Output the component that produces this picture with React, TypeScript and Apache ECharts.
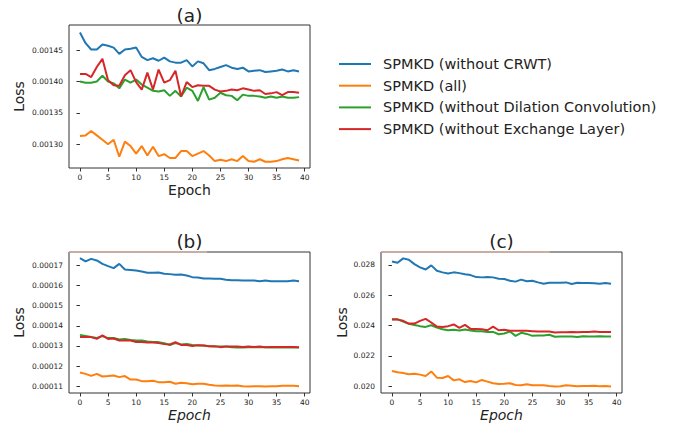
import React, { useEffect, useRef } from "react";
import * as echarts from "echarts";

const epochs: number[] = Array.from({ length: 40 }, (_, i) => i);
const seriesNames = [
  "SPMKD (without CRWT)",
  "SPMKD (all)",
  "SPMKD (without Dilation Convolution)",
  "SPMKD (without Exchange Layer)",
];
const colors = ["#1f77b4", "#ff7f0e", "#2ca02c", "#d62728"];
const panelTitles = ["(a)", "(b)", "(c)"];

// (a)
const aCrwt = [0.001478, 0.001461, 0.001451, 0.001451, 0.001459, 0.001457, 0.001454, 0.001444, 0.001451, 0.001452,
  0.001454, 0.001439, 0.001434, 0.001437, 0.001433, 0.001438, 0.001432, 0.00143, 0.00143, 0.001434,
  0.001424, 0.001432, 0.001429, 0.001418, 0.00142, 0.001423, 0.001426, 0.001422, 0.00142, 0.001422,
  0.001416, 0.001417, 0.001418, 0.001415, 0.001416, 0.001417, 0.001419, 0.001416, 0.001418, 0.001416];
const aAll = [0.001313, 0.001314, 0.001321, 0.001314, 0.001307, 0.0013, 0.001307, 0.00128, 0.001304, 0.001297,
  0.001285, 0.001297, 0.001282, 0.001296, 0.001281, 0.001284, 0.001278, 0.001278, 0.001289, 0.001289,
  0.001281, 0.001285, 0.001289, 0.001282, 0.001273, 0.001275, 0.001273, 0.001276, 0.001273, 0.001281,
  0.001273, 0.001272, 0.001276, 0.001272, 0.001272, 0.001273, 0.001276, 0.001278, 0.001276, 0.001274];
const aDil = [0.0014, 0.001398, 0.001398, 0.0014, 0.001409, 0.0014, 0.001397, 0.001389, 0.001403, 0.001398,
  0.001403, 0.001395, 0.00139, 0.001385, 0.001384, 0.001386, 0.001377, 0.001385, 0.001376, 0.00139,
  0.001385, 0.001369, 0.001391, 0.001371, 0.001374, 0.001382, 0.001378, 0.001377, 0.00137, 0.001379,
  0.001377, 0.001377, 0.001376, 0.001374, 0.001376, 0.001374, 0.001376, 0.001374, 0.001374, 0.001375];
const aExc = [0.001412, 0.001412, 0.001407, 0.001423, 0.001436, 0.001402, 0.001394, 0.001393, 0.00141, 0.001418,
  0.001399, 0.001387, 0.001414, 0.001387, 0.001419, 0.001398, 0.001402, 0.001417, 0.001376, 0.001399,
  0.001391, 0.001394, 0.001393, 0.001393, 0.001387, 0.001384, 0.001385, 0.001387, 0.001386, 0.001389,
  0.001387, 0.001385, 0.001386, 0.00138, 0.001381, 0.001383, 0.001378, 0.001383, 0.001383, 0.001382];

// (b)
const bCrwt = [0.0001736, 0.000172, 0.0001733, 0.0001725, 0.0001708, 0.0001697, 0.0001687, 0.0001708, 0.000168, 0.0001678,
  0.0001675, 0.000167, 0.0001664, 0.0001664, 0.0001665, 0.0001659, 0.0001657, 0.0001654, 0.0001655, 0.000165,
  0.0001642, 0.000164, 0.0001635, 0.0001635, 0.0001634, 0.0001634, 0.0001629, 0.0001627, 0.0001627, 0.0001625,
  0.0001625, 0.0001625, 0.0001622, 0.0001625, 0.0001622, 0.0001622, 0.0001622, 0.0001622, 0.0001625, 0.0001622];
const bAll = [0.0001168, 0.0001161, 0.0001151, 0.0001161, 0.0001148, 0.000115, 0.0001153, 0.0001145, 0.000115, 0.0001133,
  0.0001133, 0.0001125, 0.0001125, 0.0001127, 0.000112, 0.000112, 0.0001122, 0.0001112, 0.0001117, 0.0001115,
  0.000111, 0.0001112, 0.0001112, 0.0001107, 0.0001103, 0.0001102, 0.0001103, 0.0001102, 0.0001103, 0.00011,
  0.0001098, 0.00011, 0.00011, 0.0001098, 0.00011, 0.00011, 0.0001102, 0.0001102, 0.0001102, 0.00011];
const bDil = [0.0001355, 0.000135, 0.0001344, 0.000134, 0.0001349, 0.0001339, 0.0001339, 0.0001332, 0.0001335, 0.000133,
  0.0001327, 0.0001327, 0.0001322, 0.000132, 0.0001319, 0.0001314, 0.0001305, 0.0001314, 0.0001307, 0.000131,
  0.0001305, 0.0001302, 0.0001302, 0.0001299, 0.0001297, 0.0001297, 0.0001297, 0.0001294, 0.0001292, 0.0001292,
  0.0001294, 0.0001294, 0.0001294, 0.0001294, 0.0001292, 0.0001292, 0.0001292, 0.0001292, 0.0001292, 0.0001292];
const bExc = [0.0001345, 0.0001344, 0.0001344, 0.0001335, 0.0001352, 0.0001335, 0.0001337, 0.0001327, 0.0001327, 0.0001327,
  0.000132, 0.000132, 0.0001317, 0.0001317, 0.0001314, 0.0001309, 0.0001307, 0.0001319, 0.0001305, 0.0001305,
  0.00013, 0.0001304, 0.0001302, 0.0001299, 0.0001299, 0.0001294, 0.0001297, 0.0001297, 0.0001297, 0.0001295,
  0.0001297, 0.0001295, 0.0001297, 0.0001294, 0.0001295, 0.0001295, 0.0001295, 0.0001295, 0.0001295, 0.0001294];

// (c)
const cCrwt = [0.02822, 0.02813, 0.02842, 0.02833, 0.02804, 0.02783, 0.02769, 0.02796, 0.02761, 0.0275,
  0.02743, 0.0275, 0.02745, 0.02737, 0.02732, 0.02719, 0.02717, 0.02719, 0.02717, 0.02708,
  0.02706, 0.02695, 0.02689, 0.02702, 0.02691, 0.02695, 0.02684, 0.02675, 0.02682, 0.02682,
  0.02682, 0.02684, 0.02673, 0.02682, 0.0268, 0.0268, 0.02678, 0.02675, 0.0268, 0.02675];
const cAll = [0.02101, 0.02092, 0.02087, 0.02079, 0.02083, 0.02077, 0.02068, 0.02098, 0.02057, 0.02055,
  0.02068, 0.02039, 0.02046, 0.02028, 0.02035, 0.02026, 0.02042, 0.02031, 0.0202, 0.02015,
  0.02017, 0.0202, 0.02009, 0.02007, 0.02013, 0.02007, 0.02007, 0.02007, 0.02002, 0.01998,
  0.02, 0.02007, 0.02004, 0.02, 0.02002, 0.02002, 0.02004, 0.02, 0.02002, 0.01998];
const cDil = [0.02442, 0.02442, 0.02426, 0.02411, 0.02404, 0.02396, 0.02391, 0.02402, 0.02387, 0.02376,
  0.02369, 0.02372, 0.02367, 0.02374, 0.02367, 0.02363, 0.02363, 0.02358, 0.02358, 0.02343,
  0.02348, 0.02361, 0.02332, 0.02352, 0.02345, 0.02332, 0.02334, 0.02334, 0.02339, 0.02326,
  0.02328, 0.02328, 0.02328, 0.02324, 0.0233, 0.02328, 0.02328, 0.0233, 0.02328, 0.02328];
const cExc = [0.02439, 0.02439, 0.02431, 0.02413, 0.02413, 0.02431, 0.02444, 0.0242, 0.02393, 0.02391,
  0.02396, 0.02407, 0.02385, 0.02404, 0.02378, 0.02378, 0.02376, 0.02369, 0.02393, 0.02369,
  0.02372, 0.02365, 0.02365, 0.02365, 0.02365, 0.02363, 0.02361, 0.02361, 0.02361, 0.02354,
  0.02356, 0.02356, 0.02358, 0.02356, 0.02358, 0.02358, 0.02361, 0.02358, 0.02358, 0.02358];

const xTicks = [0, 5, 10, 15, 20, 25, 30, 35, 40];
const aTicks = [0.0013, 0.00135, 0.0014, 0.00145];
const bTicks = [0.00011, 0.00012, 0.00013, 0.00014, 0.00015, 0.00016, 0.00017];
const cTicks = [0.02, 0.022, 0.024, 0.026, 0.028];

const FONT = "DejaVu Sans";
const TXT = "#222";

export default function App() {
  const ref = useRef<HTMLDivElement>(null);
  useEffect(() => {
    if (!ref.current) return;
    const chart = echarts.init(ref.current, null, { renderer: "svg" });

    const panels = [
      { data: [aCrwt, aAll, aDil, aExc], ticks: aTicks, dec: 5, min: 0.001262, max: 0.00149,
        left: 69, top: 25, width: 241, height: 143, nameGap: 43, italic: false, axisName: "Loss" },
      { data: [bCrwt, bAll, bDil, bExc], ticks: bTicks, dec: 5, min: 0.0001066, max: 0.0001767,
        left: 69, top: 252, width: 241, height: 141, nameGap: 43, italic: true, axisName: "Loss" },
      { data: [cCrwt, cAll, cDil, cExc], ticks: cTicks, dec: 3, min: 0.01956, max: 0.02884,
        left: 381, top: 252, width: 241, height: 141, nameGap: 33, italic: true, axisName: "" },
    ];

    const grid = panels.map((p) => ({
      left: p.left, top: p.top, width: p.width, height: p.height,
      show: true, borderColor: "#333", borderWidth: 1, backgroundColor: "transparent",
    }));
    const xAxis = panels.map((p, i) => ({
      type: "value", gridIndex: i, min: -1.95, max: 40.95,
      name: "Epoch", nameLocation: "middle", nameGap: 15,
      nameTextStyle: { fontFamily: FONT, fontSize: 14, color: TXT, fontStyle: p.italic ? "italic" : "normal" },
      axisLine: { show: false },
      splitLine: { show: false },
      axisTick: { show: true, length: 3.5, lineStyle: { color: "#333" }, customValues: xTicks },
      axisLabel: { fontFamily: FONT, fontSize: 7.5, color: TXT, margin: 5, customValues: xTicks,
        formatter: (v: number) => String(Math.round(v)) },
    }));
    const yAxis = panels.map((p, i) => ({
      type: "value", gridIndex: i, min: p.min, max: p.max,
      name: p.axisName, nameLocation: "middle", nameGap: p.nameGap, nameRotate: 90,
      nameTextStyle: { fontFamily: FONT, fontSize: 14, color: TXT },
      axisLine: { show: false },
      splitLine: { show: false },
      axisTick: { show: true, length: 3.5, lineStyle: { color: "#333" }, customValues: p.ticks },
      axisLabel: { fontFamily: FONT, fontSize: 7.5, color: TXT, margin: 6, customValues: p.ticks,
        formatter: (v: number) => v.toFixed(p.dec) },
    }));
    const series: any[] = [];
    panels.forEach((p, i) => {
      p.data.forEach((vals, k) => {
        series.push({
          type: "line", name: seriesNames[k], xAxisIndex: i, yAxisIndex: i,
          data: epochs.map((e, j) => [e, vals[j]]),
          showSymbol: false, symbol: "none",
          lineStyle: { width: 2, color: colors[k] }, itemStyle: { color: colors[k] },
        });
      });
    });
    const title = panels.map((p, i) => ({
      text: panelTitles[i], left: p.left + p.width / 2, top: p.top - (i === 0 ? 19 : 20), textAlign: "center", padding: 0,
      textStyle: { fontFamily: FONT, fontSize: 18.5, fontWeight: "normal", color: TXT },
    }));
    const pc = panels[2];

    chart.setOption({
      animation: false,
      backgroundColor: "#fff",
      color: colors,
      title,
      legend: {
        data: seriesNames, orient: "vertical", left: 339, top: 56, padding: 0,
        icon: "rect", itemWidth: 32, itemHeight: 2, itemGap: 5.7,
        textStyle: { fontFamily: FONT, fontSize: 14.5, color: TXT, lineHeight: 16, padding: [0, 0, 0, 7] },
      },
      grid, xAxis, yAxis, series,
      graphic: [
        { type: "line", shape: { x1: 69, y1: 252, x2: 207, y2: 252 }, style: { stroke: "#f6c2ad", lineWidth: 1 }, z: 100 },
        { type: "line", shape: { x1: 381, y1: 252, x2: 550, y2: 252 }, style: { stroke: "#f6c2ad", lineWidth: 1 }, z: 100 },
        {
          type: "text", x: pc.left - 39, y: pc.top + pc.height / 2, rotation: Math.PI / 2,
          style: { text: "Loss", fontFamily: FONT, fontSize: 14, fill: TXT,
            align: "center", verticalAlign: "middle" },
        },
      ],
    });
    return () => chart.dispose();
  }, []);
  return <div ref={ref} style={{ position: "fixed", left: 0, top: 0, width: 678, height: 423 }} />;
}
